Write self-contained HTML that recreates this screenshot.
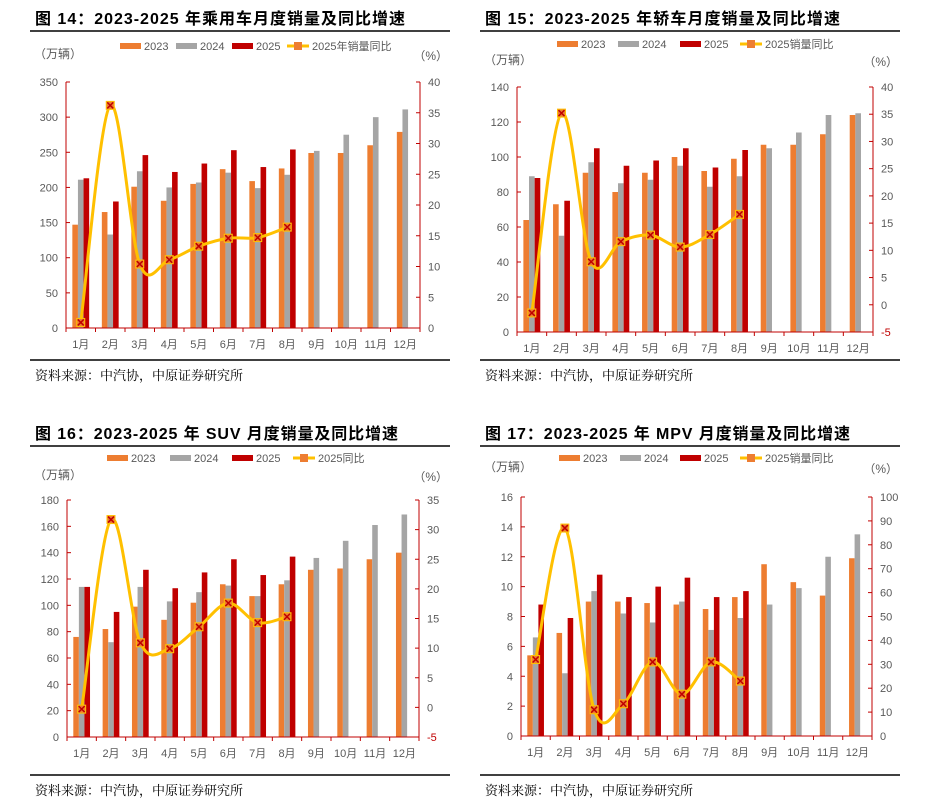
<!DOCTYPE html>
<html><head><meta charset="utf-8"><style>
body{margin:0;background:#fff;width:925px;height:800px;overflow:hidden;font-family:"Liberation Sans","Noto Sans CJK SC",sans-serif}
svg{display:block}
</style></head><body>
<svg id="root" width="925" height="800" xmlns="http://www.w3.org/2000/svg"></svg>
<script>
// ---- Chart data ----
const months = ['1月','2月','3月','4月','5月','6月','7月','8月','9月','10月','11月','12月'];
const c1_2023 = [147,165,201,181,205,226,209,227,249,249,260,279];
const c1_2024 = [211,133,223,200,207,221,199,218,252,275,300,311];
const c1_2025 = [213,180,246,222,234,253,229,254];
const c1_yoy = [0.9,36.2,10.4,11.1,13.3,14.6,14.7,16.4];
const c2_2023 = [64,73,91,80,91,100,92,99,107,107,113,124];
const c2_2024 = [89,55,97,85,87,95,83,89,105,114,124,125];
const c2_2025 = [88,75,105,95,98,105,94,104];
const c2_yoy = [-1.5,35.2,7.9,11.6,12.8,10.6,12.9,16.6];
const c3_2023 = [76,82,99,89,102,116,107,116,127,128,135,140];
const c3_2024 = [114,72,114,103,110,115,107,119,136,149,161,169];
const c3_2025 = [114,95,127,113,125,135,123,137];
const c3_yoy = [-0.3,31.7,10.9,9.9,13.6,17.6,14.3,15.3];
const c4_2023 = [5.4,6.9,9.0,9.0,8.9,8.8,8.5,9.3,11.5,10.3,9.4,11.9];
const c4_2024 = [6.6,4.2,9.7,8.2,7.6,9.0,7.1,7.9,8.8,9.9,12.0,13.5];
const c4_2025 = [8.8,7.9,10.8,9.3,10.0,10.6,9.3,9.7];
const c4_yoy = [32,87,11,13.5,31,17.5,31,23];
const c1_leftTicks = [0,50,100,150,200,250,300,350];
const c1_rightTicks = [0,5,10,15,20,25,30,35,40];
const c2_leftTicks = [0,20,40,60,80,100,120,140];
const c2_rightTicks = [-5,0,5,10,15,20,25,30,35,40];
const c3_leftTicks = [0,20,40,60,80,100,120,140,160,180];
const c3_rightTicks = [-5,0,5,10,15,20,25,30,35];
const c4_leftTicks = [0,2,4,6,8,10,12,14,16];
const c4_rightTicks = [0,10,20,30,40,50,60,70,80,90,100];

const NS='http://www.w3.org/2000/svg';
const root=document.getElementById('root');
function mk(tag,attrs,parent,text){const e=document.createElementNS(NS,tag);for(const k in attrs)e.setAttribute(k,attrs[k]);if(text!==undefined)e.textContent=text;(parent||root).appendChild(e);return e;}

function chart(o){
  const g=mk('g',{});
  
  
  const t=mk('text',{x:o.ox+5,y:o.oy-6,'font-size':16,'font-weight':'bold',fill:'#000',textLength:o.tl,lengthAdjust:'spacing'},g,o.title);
  
  
  mk('line',{x1:o.ox,x2:o.ox+420,y1:o.oy+1,y2:o.oy+1,stroke:'#000','stroke-width':1.5},g);
  mk('line',{x1:o.ox,x2:o.ox+420,y1:o.oy+330,y2:o.oy+330,stroke:'#000','stroke-width':1.5},g);
  const src=mk('text',{x:o.ox+5,y:o.oy+350,'font-size':13,fill:'#000','font-family':'"Liberation Serif","Noto Serif CJK SC",serif'},g,'资料来源：中汽协，中原证券研究所');
  
  
  const L=o.L,R=o.R,T=o.T,B=o.B;
  const lmin=o.lt[0],lmax=o.lt[o.lt.length-1],rmin=o.rt[0],rmax=o.rt[o.rt.length-1];
  const yL=v=>B-(v-lmin)/(lmax-lmin)*(B-T);
  const yR=v=>B-(v-rmin)/(rmax-rmin)*(B-T);
  const cw=(R-L)/12;
  const xC=i=>L+cw*(i+0.5);
  o.lt.forEach(v=>{
    const y=yL(v);
    const tx=mk('text',{x:L-8,y:y+4,'font-size':11,fill:'#595959','text-anchor':'end'},g,String(v));
    
    
    mk('line',{x1:L,x2:L+4,y1:y,y2:y,stroke:'#C00000'},g);
  });
  o.rt.forEach(v=>{
    const y=yR(v);
    const tx=mk('text',{x:R+8,y:y+4,'font-size':11,fill:v<0?'#C00000':'#595959'},g,String(v));
    
    
    mk('line',{x1:R,x2:R-4,y1:y,y2:y,stroke:'#C00000'},g);
  });
  const u1=mk('text',{x:o.ox+4,y:o.uy,'font-size':12,fill:'#595959'},g,'（万辆）');
  
  
  const u2=mk('text',{x:o.ox+418,y:o.uy+2,'font-size':12,fill:'#595959','text-anchor':'end'},g,'（%）');
  
  
  const bw=cw*0.19;
  const series=[[o.d23,'#ED7D31'],[o.d24,'#A5A5A5'],[o.d25,'#C00000']];
  series.forEach((s,si)=>{
    s[0].forEach((v,i)=>{
      const x=xC(i)+(si-1.5)*bw;
      const r=mk('rect',{x:x,y:yL(v),width:bw,height:yL(lmin)-yL(v),fill:s[1]},g);
      
      
    });
  });
  mk('line',{x1:L,x2:L,y1:T,y2:B,stroke:'#C00000'},g);
  mk('line',{x1:R,x2:R,y1:T,y2:B,stroke:'#C00000'},g);
  mk('line',{x1:L,x2:R,y1:B,y2:B,stroke:'#C00000'},g);
  for(let i=0;i<=12;i++){mk('line',{x1:L+cw*i,x2:L+cw*i,y1:B,y2:B+4,stroke:'#C00000'},g);}
  months.forEach((m,i)=>{
    const tx=mk('text',{x:xC(i),y:B+20,'font-size':11,fill:'#595959','text-anchor':'middle'},g,m);
    
    
  });
  const pts=o.yoy.map((v,i)=>[xC(i),yR(v)]);
  let d='M'+pts[0][0]+','+pts[0][1];
  for(let i=0;i<pts.length-1;i++){
    const p0=pts[Math.max(i-1,0)],p1=pts[i],p2=pts[i+1],p3=pts[Math.min(i+2,pts.length-1)];
    const k=1/6;
    d+=' C'+(p1[0]+(p2[0]-p0[0])*k)+','+(p1[1]+(p2[1]-p0[1])*k)+' '+(p2[0]-(p3[0]-p1[0])*k)+','+(p2[1]-(p3[1]-p1[1])*k)+' '+p2[0]+','+p2[1];
  }
  const ln=mk('path',{d:d,fill:'none',stroke:'#FFC000','stroke-width':3},g);
  
  
  pts.forEach((p,i)=>{
    const m=mk('g',{},g);
    
    
    mk('rect',{x:p[0]-4,y:p[1]-4,width:8,height:8,fill:'#ED7D31',stroke:'#FFC000','stroke-width':1},m);
    mk('path',{d:`M${p[0]-3},${p[1]-3}L${p[0]+3},${p[1]+3}M${p[0]+3},${p[1]-3}L${p[0]-3},${p[1]+3}`,stroke:'#C00000','stroke-width':1.5},m);
  });
  const ly=o.ly;
  const items=[['2023','#ED7D31'],['2024','#A5A5A5'],['2025','#C00000']];
  items.forEach((it,i)=>{
    const lx=o.lx[i];
    const lg=mk('g',{},g);
    
    
    mk('rect',{x:lx,y:ly-3,width:21,height:6,fill:it[1]},lg);
    mk('text',{x:lx+24,y:ly+4,'font-size':11,fill:'#595959'},lg,it[0]);
  });
  const lx=o.lx[3];
  const lg=mk('g',{},g);
  
  
  mk('line',{x1:lx,x2:lx+22,y1:ly,y2:ly,stroke:'#FFC000','stroke-width':3},lg);
  mk('rect',{x:lx+7,y:ly-4,width:8,height:8,fill:'#ED7D31'},lg);
  mk('text',{x:lx+25,y:ly+4,'font-size':11,fill:'#595959'},lg,o.lname);
}

chart({id:'chart-14',ox:30,oy:30,tl:370,title:'图 14：2023-2025 年乘用车月度销量及同比增速',L:66,R:420,T:82,B:328,lt:c1_leftTicks,rt:c1_rightTicks,d23:c1_2023,d24:c1_2024,d25:c1_2025,yoy:c1_yoy,uy:58,ly:46,lx:[120,176,232,287],lname:'2025年销量同比'});
chart({id:'chart-15',ox:480,oy:30,tl:355,title:'图 15：2023-2025 年轿车月度销量及同比增速',L:517,R:873,T:87,B:332,lt:c2_leftTicks,rt:c2_rightTicks,d23:c2_2023,d24:c2_2024,d25:c2_2025,yoy:c2_yoy,uy:64,ly:44,lx:[557,618,680,740],lname:'2025销量同比'});
chart({id:'chart-16',ox:30,oy:445,tl:363,title:'图 16：2023-2025 年 SUV 月度销量及同比增速',L:67,R:419,T:500,B:737,lt:c3_leftTicks,rt:c3_rightTicks,d23:c3_2023,d24:c3_2024,d25:c3_2025,yoy:c3_yoy,uy:479,ly:458,lx:[107,170,232,293],lname:'2025同比'});
chart({id:'chart-17',ox:480,oy:445,tl:365,title:'图 17：2023-2025 年 MPV 月度销量及同比增速',L:521,R:872,T:497,B:736,lt:c4_leftTicks,rt:c4_rightTicks,d23:c4_2023,d24:c4_2024,d25:c4_2025,yoy:c4_yoy,uy:471,ly:458,lx:[559,620,680,740],lname:'2025销量同比'});
</script>
</body></html>
